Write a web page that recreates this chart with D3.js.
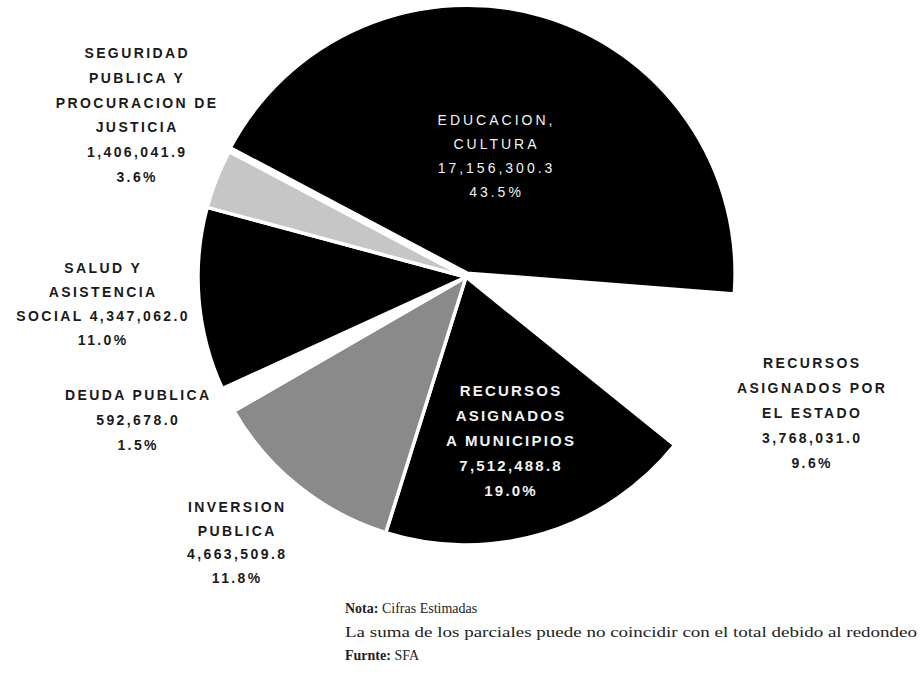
<!DOCTYPE html>
<html>
<head>
<meta charset="utf-8">
<script src="https://cdn.jsdelivr.net/npm/d3@7/dist/d3.min.js"></script>
<style>
  html, body { margin: 0; padding: 0; background: #fff; }
  svg { display: block; }
  .lbl { font-family: 'Liberation Sans', Arial, sans-serif; font-weight: bold; font-size: 14px; letter-spacing: 2.4px; fill: #1a1a1a; }
  .note { font-family: 'Liberation Serif', 'Times New Roman', serif; font-size: 14px; fill: #222; }
</style>
</head>
<body>
<svg id="svg"></svg>
<script>
const WIDTH = 922;
const HEIGHT = 679;

// Slices, clockwise starting with Educacion
const categories = [
  'EDUCACION, CULTURA',
  'RECURSOS ASIGNADOS POR EL ESTADO',
  'RECURSOS ASIGNADOS A MUNICIPIOS',
  'INVERSION PUBLICA',
  'DEUDA PUBLICA',
  'SALUD Y ASISTENCIA SOCIAL',
  'SEGURIDAD PUBLICA Y PROCURACION DE JUSTICIA'
];
const values = [17156300.3, 3768031.0, 7512488.8, 4663509.8, 592678.0, 4347062.0, 1406041.9];
// label lines, {v} = value, {p} = percent
const labelLines = [
  ['EDUCACION,', 'CULTURA', '{v}', '{p}'],
  ['RECURSOS', 'ASIGNADOS POR', 'EL ESTADO', '{v}', '{p}'],
  ['RECURSOS', 'ASIGNADOS', 'A MUNICIPIOS', '{v}', '{p}'],
  ['INVERSION', 'PUBLICA', '{v}', '{p}'],
  ['DEUDA PUBLICA', '{v}', '{p}'],
  ['SALUD Y', 'ASISTENCIA', 'SOCIAL {v}', '{p}'],
  ['SEGURIDAD', 'PUBLICA Y', 'PROCURACION DE', 'JUSTICIA', '{v}', '{p}']
];
const noteLines = [
  ['Nota:', ' Cifras Estimadas'],
  ['', 'La suma de los parciales puede no coincidir con el total debido al redondeo'],
  ['Furnte:', ' SFA']
];

// layout
const CX = 466;
const CY = 277;
const RADIUS = 268;
const START = -62.1 * Math.PI / 180;
const fills = ['#000', '#fff', '#000', '#8a8a8a', '#fff', '#000', '#c6c6c6'];
// label anchor (x, first line y, line step, text colour, font size, spacing, weight)
const labelLayout = [
  { x: 495, y: 125, step: 24, color: '#f2f2f2', size: 14, ls: 3, w: 'normal' },
  { x: 811, y: 368, step: 25, color: '#1a1a1a', size: 14, ls: 2.4, w: 'bold' },
  { x: 510, y: 396, step: 25, color: '#f2f2f2', size: 15, ls: 2.2, w: 'bold' },
  { x: 236, y: 512, step: 23.5, color: '#1a1a1a', size: 14, ls: 2.4, w: 'bold' },
  { x: 137, y: 400, step: 25, color: '#1a1a1a', size: 14, ls: 2.4, w: 'bold' },
  { x: 102, y: 273, step: 24, color: '#1a1a1a', size: 14, ls: 2.4, w: 'bold' },
  { x: 136, y: 58, step: 24.8, color: '#1a1a1a', size: 14, ls: 2.4, w: 'bold' }
];

const total = d3.sum(values);
const fmtValue = d3.format(',.1f');
const fmtPct = d3.format('.1%');

const svg = d3.select('#svg')
  .attr('width', WIDTH)
  .attr('height', HEIGHT);

// Init Pie
const pie = d3.pie()
  .value(d => d)
  .sort(null)
  .startAngle(START)
  .endAngle(START + 2 * Math.PI);

const arc = d3.arc()
  .innerRadius(0)
  .outerRadius(RADIUS);

const g = svg.append('g')
  .attr('transform', 'translate(' + CX + ',' + CY + ')');

g.selectAll('path')
  .data(pie(values))
  .enter()
  .append('path')
  .attr('d', arc)
  .attr('fill', (d, i) => fills[i])
  .attr('stroke', '#fff')
  .attr('stroke-width', 3.5)
  .attr('stroke-linejoin', 'round')
  .attr('transform', (d, i) => {
    // Educacion sits a little out of the pie
    if (i !== 0) return null;
    const mid = (d.startAngle + d.endAngle) / 2;
    return 'translate(' + (Math.sin(mid) * 4) + ',' + (-Math.cos(mid) * 4) + ')';
  });

// Labels
categories.forEach((c, i) => {
  const lay = labelLayout[i];
  const lines = labelLines[i].map(l => l
    .replace('{v}', fmtValue(values[i]))
    .replace('{p}', fmtPct(values[i] / total)));
  const t = svg.append('text')
    .attr('class', 'lbl')
    .attr('text-anchor', 'middle')
    .style('fill', lay.color)
    .style('font-size', lay.size + 'px')
    .style('letter-spacing', lay.ls + 'px')
    .style('font-weight', lay.w);
  lines.forEach((l, j) => {
    t.append('tspan')
      .attr('x', lay.x + lay.ls / 2)
      .attr('y', lay.y + j * lay.step)
      .text(l);
  });
});

// Notes
noteLines.forEach((n, j) => {
  const t = svg.append('text')
    .attr('class', 'note')
    .attr('x', 345)
    .attr('y', 613 + j * 23.5);
  if (n[0]) t.append('tspan').attr('font-weight', 'bold').text(n[0]);
  t.append('tspan').text(n[1]);
  if (j === 1) t.attr('textLength', 572).attr('lengthAdjust', 'spacingAndGlyphs');
});
</script>
</body>
</html>
